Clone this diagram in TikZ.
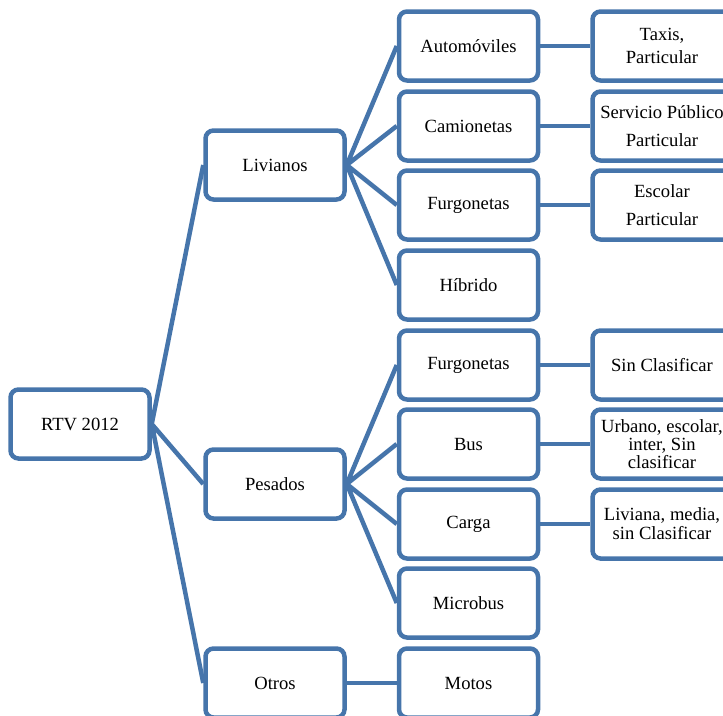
\documentclass[tikz,border=0pt]{standalone}
\usepackage{fontspec}
\setmainfont{Liberation Serif}
\definecolor{boxblue}{RGB}{70,117,171}
\begin{document}
\begin{tikzpicture}[x=1pt,y=-1pt,
  box/.style={draw=boxblue,line width=4.5pt,rounded corners=8pt,fill=white,
    minimum width=139pt,minimum height=69pt,inner sep=0pt,align=center,
    font=\fontsize{18.6}{23}\selectfont},
  link/.style={draw=boxblue,line width=4.5pt}]
\useasboundingbox (0,0) rectangle (723,715);
\clip (0,0) rectangle (723,715);
\node[box] (root) at (80,424) {RTV 2012};
\node[box] (liv) at (275,165) {Livianos};
\node[box] (pes) at (275,484) {Pesados};
\node[box] (otr) at (275,683) {Otros};
\node[box] (auto) at (468.5,46) {Automóviles};
\node[box] (cam) at (468.5,126) {Camionetas};
\node[box] (furl) at (468.5,205) {Furgonetas};
\node[box] (hib) at (468.5,285) {Híbrido};
\node[box] (furp) at (468.5,365) {Furgonetas};
\node[box] (bus) at (468.5,444) {Bus};
\node[box] (car) at (468.5,524) {Carga};
\node[box] (mic) at (468.5,603) {Microbus};
\node[box] (mot) at (468.5,683) {Motos};
\node[box] (taxi) at (662,46) {Taxis,\\Particular};
\node[box] (serv) at (662,126) {Servicio Público\\[5pt]Particular};
\node[box] (esc) at (662,205) {Escolar\\[5pt]Particular};
\node[box] (sin) at (662,365) {Sin Clasificar};
\node[box] (urb) at (662,444) {Urbano, escolar,\\[-5pt]inter, Sin\\[-5pt]clasificar};
\node[box] (livm) at (662,524) {Liviana, media,\\[-4pt]sin Clasificar};
\path[link] (root.east) -- (liv.west) (root.east) -- (pes.west) (root.east) -- (otr.west);
\path[link] (liv.east) -- (auto.west) (liv.east) -- (cam.west) (liv.east) -- (furl.west) (liv.east) -- (hib.west);
\path[link] (pes.east) -- (furp.west) (pes.east) -- (bus.west) (pes.east) -- (car.west) (pes.east) -- (mic.west);
\path[link] (otr.east) -- (mot.west);
\path[link] (auto.east) -- (taxi.west) (cam.east) -- (serv.west) (furl.east) -- (esc.west);
\path[link] (furp.east) -- (sin.west) (bus.east) -- (urb.west) (car.east) -- (livm.west);
\end{tikzpicture}
\end{document}
